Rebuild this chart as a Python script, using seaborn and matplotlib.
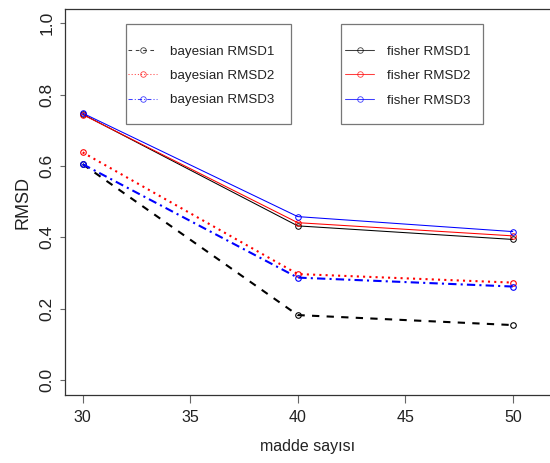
import matplotlib
matplotlib.use("Agg")
import matplotlib.pyplot as plt
from matplotlib.lines import Line2D
from matplotlib.patches import Rectangle
import seaborn as sns

# data
madde_sayisi = [30, 40, 50]
bayesian_rmsd1 = [0.605, 0.182, 0.154]
bayesian_rmsd2 = [0.638, 0.297, 0.273]
bayesian_rmsd3 = [0.605, 0.287, 0.262]
fisher_rmsd1 = [0.745, 0.432, 0.394]
fisher_rmsd2 = [0.744, 0.441, 0.404]
fisher_rmsd3 = [0.748, 0.458, 0.416]
y_ticks = [0.0, 0.2, 0.4, 0.6, 0.8, 1.0]
x_ticks = [30, 35, 40, 45, 50]

sns.set_style("white")
plt.rcParams["font.family"] = ["Liberation Sans", "DejaVu Sans"]

fig = plt.figure(figsize=(5.5, 4.63), dpi=100)
ax = fig.add_axes([65 / 550, 68 / 463, 488 / 550, 385.7 / 463])

# bayesian: thick, patterned lines; fisher: thin solid lines
bayes = [
    (bayesian_rmsd1, "black", (0, (3.5, 3.5)), "bayesian RMSD1"),
    (bayesian_rmsd2, "#ff0000", (0, (1, 2)), "bayesian RMSD2"),
    (bayesian_rmsd3, "#0000ff", (0, (4, 2, 1, 2)), "bayesian RMSD3"),
]
fisher = [
    (fisher_rmsd1, "black", "-", "fisher RMSD1"),
    (fisher_rmsd2, "#ff0000", "-", "fisher RMSD2"),
    (fisher_rmsd3, "#0000ff", "-", "fisher RMSD3"),
]

for vals, col, ls, lab in fisher:
    sns.lineplot(x=madde_sayisi, y=vals, ax=ax, color=col, linestyle=ls,
                 lw=0.75, marker="o", markersize=4, markerfacecolor="none",
                 markeredgecolor=col, markeredgewidth=0.7, legend=False)
for vals, col, ls, lab in bayes:
    sns.lineplot(x=madde_sayisi, y=vals, ax=ax, color=col, linestyle=ls,
                 lw=1.5, marker="o", markersize=4, markerfacecolor="none",
                 markeredgecolor=col, markeredgewidth=0.8, legend=False)

ax.set_xlim(29.18, 51.87)
ax.set_ylim(-0.042, 1.039)
ax.set_xticks(x_ticks)
ax.set_yticks(y_ticks)
ax.set_xticklabels([str(t) for t in x_ticks], fontsize=11.5)
ax.set_yticklabels([f"{t:.1f}" for t in y_ticks], fontsize=12.5,
                   rotation=90, va="center")
ax.tick_params(axis="x", length=5.5, width=0.8, color="#666666", pad=5,
               colors="#222222")
ax.tick_params(axis="y", length=3.6, width=0.8, color="#666666", pad=4,
               colors="#222222")
ax.tick_params(axis="both", bottom=True, left=True)

for side in ["left", "bottom", "top", "right"]:
    ax.spines[side].set_color("#333333")
    ax.spines[side].set_linewidth(0.9)

ax.set_xlabel("madde sayısı", fontsize=11.5, color="#222222")
ax.set_ylabel("RMSD", fontsize=13, color="#222222")
ax.xaxis.set_label_coords(0.498, -0.134)
ax.xaxis.label.set_va("center")
ax.yaxis.set_label_coords(-0.086, 0.5)
ax.yaxis.label.set_va("center")


# legend keys are drawn thin, as in the R legend
def key(col, ls):
    return Line2D([], [], color=col, linestyle=ls, lw=0.75, marker="o",
                  markersize=4, markerfacecolor="none", markeredgecolor=col,
                  markeredgewidth=0.6, alpha=0.75)


leg_kw = dict(loc="center left", frameon=False, borderpad=0, borderaxespad=0,
              handlelength=2.2, handletextpad=0.95, labelspacing=0.9,
              prop={"size": 9.6}, bbox_transform=fig.transFigure)
leg1 = ax.legend([key(b[1], b[2]) for b in bayes], [b[3] for b in bayes],
                 bbox_to_anchor=(128 / 550, 1 - 76 / 463), **leg_kw)
ax.add_artist(leg1)
leg2 = ax.legend([key(f[1], f[2]) for f in fisher], [f[3] for f in fisher],
                 bbox_to_anchor=(345 / 550, 1 - 76 / 463), **leg_kw)
for leg in (leg1, leg2):
    for txt in leg.get_texts():
        txt.set_color("#222222")

fig.add_artist(Rectangle((125.7 / 550, 1 - 123.7 / 463), 165.3 / 550, 100 / 463,
                         transform=fig.transFigure, fill=False,
                         ec="#777777", lw=0.9))
fig.add_artist(Rectangle((341 / 550, 1 - 123.7 / 463), 141.7 / 550, 100 / 463,
                         transform=fig.transFigure, fill=False,
                         ec="#777777", lw=0.9))

fig.savefig("out.png", dpi=100)
plt.close(fig)
